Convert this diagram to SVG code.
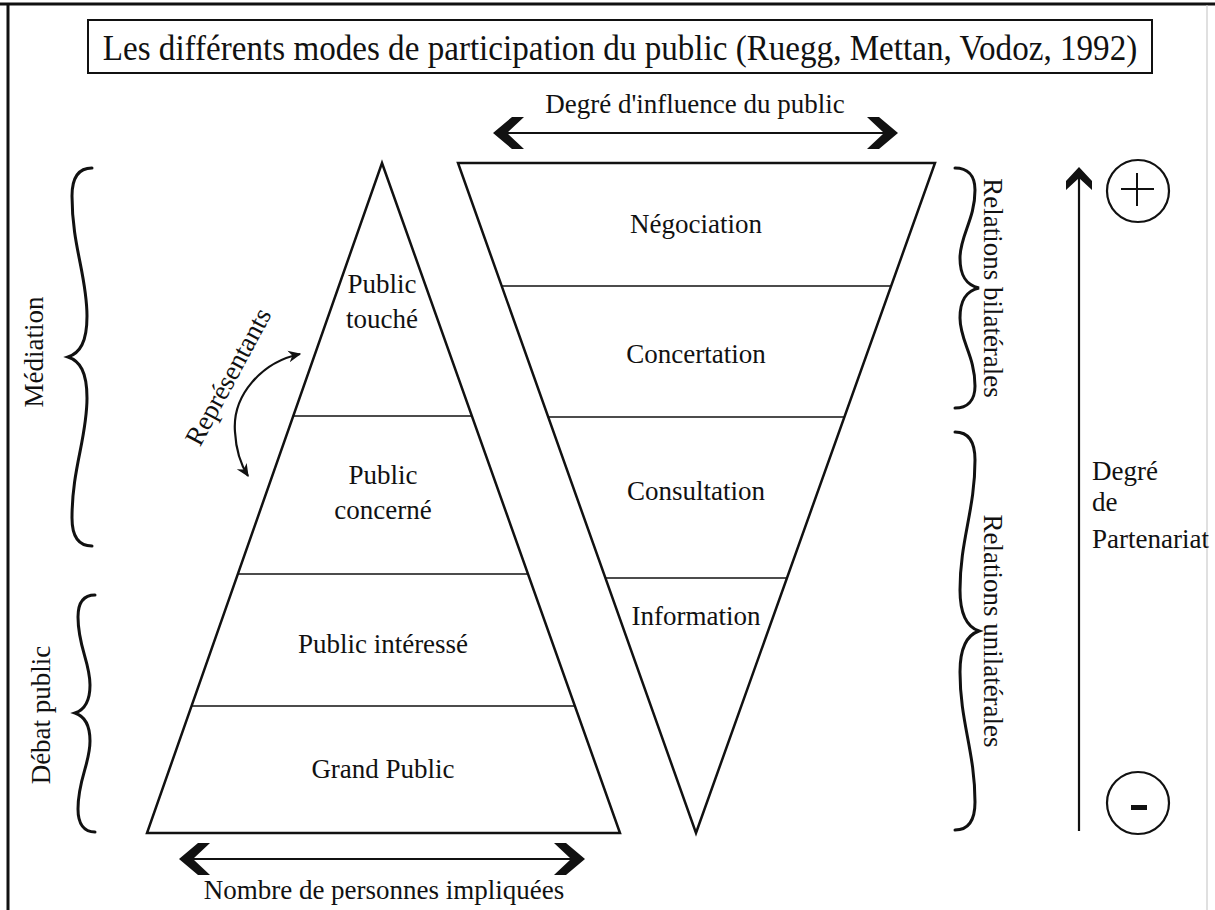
<svg xmlns="http://www.w3.org/2000/svg" width="1215" height="910" viewBox="0 0 1215 910">
<style>
.t{font-family:"Liberation Serif","Times New Roman",serif;font-size:27px;fill:#111}
.ti{font-family:"Liberation Serif","Times New Roman",serif;font-size:36px;fill:#111}
.m{text-anchor:middle}
.shape{fill:none;stroke:#111;stroke-width:2.5;stroke-linejoin:miter}
.band{stroke:#111;stroke-width:1.6}
.brace{fill:none;stroke:#111;stroke-width:3;stroke-linecap:round}
.ln{stroke:#111;stroke-width:2.2}
.chev{fill:#111}
</style>
<defs>
<path id="chev" d="M0,0 L19,-16 L31,-16 L14,0 L31,16 L19,16 Z"/>
<marker id="barb" viewBox="0 0 10 10" refX="9" refY="5" markerWidth="13" markerHeight="13" markerUnits="userSpaceOnUse" orient="auto-start-reverse">
<path d="M0,0.5 L10,5 L0,9.5 L3,5 Z" fill="#111"/>
</marker>
</defs>
<rect width="1215" height="910" fill="#fff"/>
<g id="frame">
<line x1="0" y1="4" x2="1215" y2="4" stroke="#111" stroke-width="3"/>
<line x1="8" y1="3" x2="8" y2="910" stroke="#111" stroke-width="3"/>
<line x1="1207" y1="5" x2="1207" y2="910" stroke="#ccc" stroke-width="1.2"/>
</g>
<g id="title">
<rect x="88" y="20" width="1064" height="53" fill="none" stroke="#111" stroke-width="2"/>
<text class="ti m" transform="translate(620,60) scale(0.92,1)">Les différents modes de participation du public (Ruegg, Mettan, Vodoz, 1992)</text>
</g>
<g id="pyramid">
<polygon class="shape" points="382,163 620,833 147,833"/>
<line class="band" x1="293" y1="416" x2="472" y2="416"/>
<line class="band" x1="238" y1="574" x2="528" y2="574"/>
<line class="band" x1="191" y1="706" x2="575" y2="706"/>
<text class="t m" x="382" y="293">Public</text>
<text class="t m" x="382" y="328">touché</text>
<text class="t m" x="383" y="484">Public</text>
<text class="t m" x="383" y="519">concerné</text>
<text class="t m" x="383" y="653">Public intéressé</text>
<text class="t m" x="383" y="778">Grand Public</text>
</g>
<g id="funnel">
<polygon class="shape" points="458,163 935,163 696,833"/>
<line class="band" x1="502" y1="286" x2="891" y2="286"/>
<line class="band" x1="548" y1="417" x2="844" y2="417"/>
<line class="band" x1="605" y1="578" x2="787" y2="578"/>
<text class="t m" x="696" y="233">Négociation</text>
<text class="t m" x="696" y="363">Concertation</text>
<text class="t m" x="696" y="500">Consultation</text>
<text class="t m" x="696" y="625">Information</text>
</g>
<g id="braces">
<path class="brace" d="M92,168 C80,168 72,176 72,196 C72,246 87,276 87,316 C87,342 80,353 68,357 C80,361 87,372 87,398 C87,438 72,468 72,518 C72,538 80,546 92,546"/>
<path class="brace" d="M95,595 C84,595 78,602 78,617 C78,647 90,662 90,685 C90,702 84,710 75,713 C84,716 90,724 90,741 C90,764 78,779 78,809 C78,824 84,832 95,832"/>
<path class="brace" d="M955,168 C967,168 975,175 975,190 C975,220 960,235 960,258 C960,276 966,285 979,288 C966,291 960,300 960,318 C960,341 975,356 975,386 C975,401 967,408 955,408"/>
<path class="brace" d="M955,432 C967,432 975,440 975,460 C975,510 960,540 960,590 C960,615 967,627 979,631 C967,635 960,647 960,672 C960,722 975,752 975,802 C975,822 967,830 955,830"/>
</g>
<g id="side-labels">
<text class="t m" transform="translate(43,352) rotate(-90)">Médiation</text>
<text class="t m" transform="translate(50,715) rotate(-90)">Débat public</text>
<text class="t m" transform="translate(984,288) rotate(90)">Relations bilatérales</text>
<text class="t m" transform="translate(984,631) rotate(90)">Relations unilatérales</text>
</g>
<g id="connectors">
<line class="ln" x1="500" y1="133" x2="891" y2="133"/>
<use href="#chev" class="chev" transform="translate(493,133)"/>
<use href="#chev" class="chev" transform="translate(898,133) scale(-1,1)"/>
<line class="ln" x1="186" y1="859" x2="578" y2="859"/>
<use href="#chev" class="chev" transform="translate(179,859)"/>
<use href="#chev" class="chev" transform="translate(585,859) scale(-1,1)"/>
<line class="ln" x1="1079" y1="175" x2="1079" y2="831"/>
<polygon class="chev" points="1079,167 1092,181 1092,190 1079,178 1066,190 1066,181"/>
<path d="M300,354 C262,362 232,395 235,432 C236,450 241,465 248,476" fill="none" stroke="#111" stroke-width="2.2" marker-start="url(#barb)" marker-end="url(#barb)"/>
</g>
<g id="axis-labels">
<text class="t m" x="695" y="113">Degré d'influence du public</text>
<text class="t m" x="384" y="899">Nombre de personnes impliquées</text>
<text class="t" transform="translate(236,381) rotate(-61.6)" text-anchor="middle">Représentants</text>
<text class="t" x="1092" y="480">Degré</text>
<text class="t" x="1092" y="511">de</text>
<text class="t" x="1092" y="548">Partenariat</text>
</g>
<g id="plus">
<circle cx="1138" cy="191" r="31" fill="none" stroke="#111" stroke-width="2.2"/>
<line x1="1121" y1="189" x2="1154" y2="189" stroke="#111" stroke-width="2"/>
<line x1="1137" y1="173" x2="1137" y2="206" stroke="#111" stroke-width="2"/>
</g>
<g id="minus">
<circle cx="1138" cy="803" r="31" fill="none" stroke="#111" stroke-width="2.2"/>
<rect x="1131" y="805" width="16" height="5" fill="#111"/>
</g>
</svg>
